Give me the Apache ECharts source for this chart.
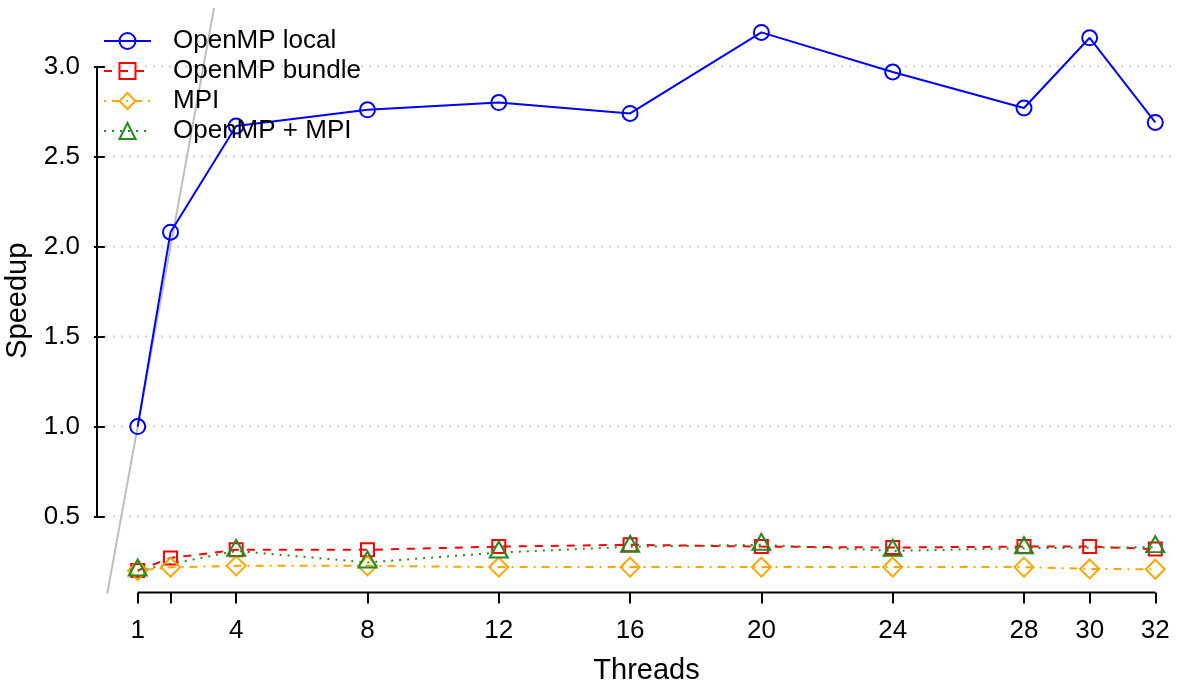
<!DOCTYPE html>
<html>
<head>
<meta charset="utf-8">
<script src="https://cdn.jsdelivr.net/npm/echarts@6/dist/echarts.min.js"></script>
<style>
  html, body { margin: 0; padding: 0; background: #fff; }
  #speedup { width: 1182px; height: 686px; }
</style>
</head>
<body>
<div id="speedup"></div>
<script>
  // thread counts on the x axis
  const threads = [1, 2, 4, 8, 12, 16, 20, 24, 28, 30, 32];
  const ompLocal = [1.00, 2.08, 2.67, 2.76, 2.80, 2.74, 3.19, 2.97, 2.77, 3.16, 2.69];
  const ompBundle = [0.20, 0.27, 0.315, 0.315, 0.333, 0.343, 0.333, 0.328, 0.333, 0.333, 0.319];
  const mpi = [0.20, 0.218, 0.226, 0.226, 0.219, 0.219, 0.219, 0.219, 0.219, 0.209, 0.207];
  // OpenMP + MPI has no run at 2 and 30 threads
  const hybridThreads = [1, 4, 8, 12, 16, 20, 24, 28, 32];
  const hybrid = [0.20, 0.309, 0.245, 0.30, 0.332, 0.343, 0.309, 0.324, 0.33];
  // ideal speedup y = x
  const ideal = [[0, 0], [4, 4]];

  const xTicks = [1, 2, 4, 8, 12, 16, 20, 24, 28, 30, 32];
  const xLabels = [1, 4, 8, 12, 16, 20, 24, 28, 30, 32];
  const yTicks = [0.5, 1.0, 1.5, 2.0, 2.5, 3.0];

  const xMin = -0.24, xMax = 33.24, yMin = 0.078, yMax = 3.32;
  const gridFrom = 0, gridTo = 32.5;
  const font = "'Liberation Sans', Arial, Helvetica, sans-serif";

  const pair = (xs, ys) => xs.map((x, i) => [x, ys[i]]);
  const hollow = c => ({ color: 'rgba(0,0,0,0)', borderColor: c, borderWidth: 2 });

  const chart = echarts.init(document.getElementById('speedup'));
  chart.setOption({
    animation: false,
    grid: { left: 97, top: 9, width: 1099, height: 583.5, outerBoundsMode: 'none', containLabel: false },
    legend: {
      orient: 'vertical', left: 103, top: 28, padding: 0,
      itemWidth: 47, itemHeight: 20, itemGap: 4,
      data: ['OpenMP local', 'OpenMP bundle', 'MPI', 'OpenMP + MPI'],
      textStyle: { fontFamily: font, fontSize: 26, color: '#000', lineHeight: 26, padding: [0, 0, 0, 17] }
    },
    xAxis: {
      type: 'value', min: xMin, max: xMax,
      name: 'Threads', nameLocation: 'middle', nameGap: 64,
      nameTextStyle: { fontFamily: font, fontSize: 29, color: '#000' },
      axisLine: { show: false },
      axisTick: { show: true, customValues: xTicks, length: 11, lineStyle: { color: '#000', width: 2 } },
      axisLabel: { customValues: xLabels, fontFamily: font, fontSize: 26, color: '#000', margin: 25 },
      splitLine: { show: false }
    },
    yAxis: {
      type: 'value', min: yMin, max: yMax,
      name: 'Speedup', nameLocation: 'middle', nameGap: 64, nameRotate: 90,
      nameTextStyle: { fontFamily: font, fontSize: 29, color: '#000' },
      axisLine: { show: false },
      axisTick: { show: true, customValues: yTicks, length: 11, lineStyle: { color: '#000', width: 2 } },
      axisLabel: { customValues: yTicks, fontFamily: font, fontSize: 26, color: '#000', margin: 17,
                   formatter: v => v.toFixed(1) },
      splitLine: { show: false }
    },
    series: [
      // dotted horizontal guides
      ...yTicks.map(v => ({
        type: 'line', silent: true, symbol: 'none', z: 0,
        data: [[gridFrom, v], [gridTo, v]],
        lineStyle: { color: '#CFCFCF', width: 2, type: [2, 6] }
      })),
      {
        name: 'ideal', type: 'line', data: ideal, clip: true, symbol: 'none', silent: true, z: 1,
        lineStyle: { color: '#BEBEBE', width: 2 }
      },
      {
        name: 'xaxis', type: 'line', clip: false, symbol: 'none', silent: true,
        data: [[xTicks[0], yMin], [xTicks[xTicks.length - 1], yMin]],
        lineStyle: { color: '#000', width: 2 }
      },
      {
        name: 'yaxis', type: 'line', clip: false, symbol: 'none', silent: true,
        data: [[xMin, yTicks[0]], [xMin, yTicks[yTicks.length - 1]]],
        lineStyle: { color: '#000', width: 2 }
      },
      {
        name: 'OpenMP local', type: 'line', data: pair(threads, ompLocal), z: 3,
        symbol: 'circle', symbolSize: 15, itemStyle: hollow('#0000FF'),
        lineStyle: { color: '#0000FF', width: 2 }
      },
      {
        name: 'OpenMP bundle', type: 'line', data: pair(threads, ompBundle), z: 3,
        symbol: 'rect', symbolSize: 13, itemStyle: hollow('#FF0000'),
        lineStyle: { color: '#FF0000', width: 2, type: [8, 8] }
      },
      {
        name: 'MPI', type: 'line', data: pair(threads, mpi), z: 3,
        symbol: 'diamond', symbolSize: [19, 19], itemStyle: hollow('#FFA500'),
        lineStyle: { color: '#FFA500', width: 2, type: [2, 6, 8, 6] }
      },
      {
        name: 'OpenMP + MPI', type: 'line', data: pair(hybridThreads, hybrid), z: 3,
        symbol: 'triangle', symbolSize: [18, 16], symbolOffset: [0, -3], itemStyle: hollow('#228B22'),
        lineStyle: { color: '#228B22', width: 2, type: [2, 6] }
      }
    ]
  });
</script>
</body>
</html>
